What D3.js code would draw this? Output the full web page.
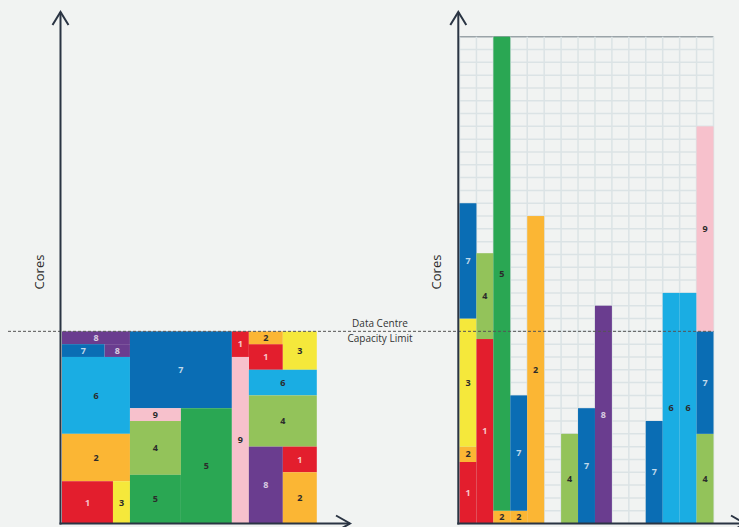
<!DOCTYPE html>
<html>
<head>
<meta charset="utf-8">
<script src="https://cdn.jsdelivr.net/npm/d3@7"></script>
<style>
  body { margin: 0; background: #f1f3f2; }
  svg { display: block; font-family: "Open Sans", sans-serif; }
</style>
</head>
<body>
<div id="chart"></div>
<script>
// job ids and their colours
const jobs = [1, 2, 3, 4, 5, 6, 7, 8, 9];
const jobColors = ["#e31e2d", "#fbb634", "#f5e83b", "#93c35a", "#2aa753", "#1aade3", "#0a6db4", "#6a3d8f", "#f7c1cc"];
const lightLabelJobs = [1, 7, 8];

// left panel: packed blocks (x in time slots, y in cores)
const leftJob = [8, 8, 7, 6, 2, 1, 3, 7, 9, 4, 5, 5, 1, 1, 9, 2, 3, 6, 4, 8, 1, 2];
const leftX0 = [0, 2.5, 0, 0, 0, 0, 3, 4, 4, 4, 4, 7, 10, 11, 10, 11, 13, 11, 11, 11, 13, 13];
const leftX1 = [4, 4, 2.5, 4, 4, 3, 4, 10, 7, 7, 7, 10, 11, 13, 11, 13, 15, 15, 15, 13, 15, 15];
const leftY0 = [14, 13, 13, 7, 3.3, 0, 0, 9, 8, 3.8, 0, 0, 13, 12, 0, 14, 12, 10, 6, 0, 4, 0];
const leftY1 = [15, 14, 14, 13, 7, 3.3, 3.3, 15, 9, 8, 3.8, 9, 15, 14, 13, 15, 15, 12, 10, 6, 6, 4];

// right panel: stacked columns (column index, core range)
const rightJob = [1, 2, 3, 7, 1, 4, 2, 5, 2, 7, 2, 4, 7, 8, 7, 6, 6, 4, 7, 9];
const rightCol = [0, 0, 0, 0, 1, 1, 2, 2, 3, 3, 4, 6, 7, 8, 11, 12, 13, 14, 14, 14];
const rightY0 = [0, 4.8, 6, 16, 0, 14.4, 0, 1, 0, 1, 0, 0, 0, 0, 0, 0, 0, 0, 7, 15];
const rightY1 = [4.8, 6, 16, 25, 14.4, 21.1, 1, 38, 1, 10, 24, 7, 9, 17, 8, 18, 18, 7, 15, 31];

const capacity = 15;
const maxCores = 38;
const slots = 15;

const W = 739, H = 527;
const svg = d3.select("#chart").append("svg")
    .attr("width", W)
    .attr("height", H);

const color = d3.scaleOrdinal().domain(jobs).range(jobColors);
const labelColor = j => lightLabelJobs.includes(j) ? "rgba(255,255,255,0.75)" : "#2b2b2b";

const yScale = d3.scaleLinear().domain([0, maxCores]).range([523.5, 36.7]);
const xLeft = d3.scaleLinear().domain([0, slots]).range([62, 316.8]);
const xRight = d3.scaleLinear().domain([0, slots]).range([459.5, 713.5]);

// grid behind the right panel
const grid = svg.append("g");
grid.selectAll(".hline")
    .data(d3.range(0, maxCores + 1))
    .enter().append("line")
    .attr("x1", xRight(0)).attr("x2", xRight(slots))
    .attr("y1", d => yScale(d)).attr("y2", d => yScale(d))
    .attr("stroke", d => d === maxCores ? "#9aa3a8" : "#dbe3e5")
    .attr("stroke-width", 1.5);
grid.selectAll(".vline")
    .data(d3.range(0, slots + 1))
    .enter().append("line")
    .attr("x1", d => xRight(d)).attr("x2", d => xRight(d))
    .attr("y1", yScale(0)).attr("y2", yScale(maxCores))
    .attr("stroke", "#dbe3e5")
    .attr("stroke-width", 1.5);

// left blocks
const leftData = leftJob.map((j, i) => ({ job: j, x0: leftX0[i], x1: leftX1[i], y0: leftY0[i], y1: leftY1[i] }));
const lg = svg.append("g");
lg.selectAll("rect")
    .data(leftData)
    .enter().append("rect")
    .attr("x", d => xLeft(d.x0))
    .attr("y", d => yScale(d.y1))
    .attr("width", d => xLeft(d.x1) - xLeft(d.x0))
    .attr("height", d => yScale(d.y0) - yScale(d.y1))
    .attr("fill", d => color(d.job));
lg.selectAll("text")
    .data(leftData)
    .enter().append("text")
    .attr("x", d => (xLeft(d.x0) + xLeft(d.x1)) / 2)
    .attr("y", d => (yScale(d.y0) + yScale(d.y1)) / 2)
    .attr("dy", "0.35em")
    .attr("text-anchor", "middle")
    .attr("font-size", 9)
    .attr("font-weight", "bold")
    .attr("fill", d => labelColor(d.job))
    .text(d => d.job);

// right columns
const rightData = rightJob.map((j, i) => ({ job: j, col: rightCol[i], y0: rightY0[i], y1: rightY1[i] }));
const rg = svg.append("g");
rg.selectAll("rect")
    .data(rightData)
    .enter().append("rect")
    .attr("x", d => xRight(d.col))
    .attr("y", d => yScale(d.y1))
    .attr("width", d => xRight(d.col + 1) - xRight(d.col))
    .attr("height", d => yScale(d.y0) - yScale(d.y1))
    .attr("fill", d => color(d.job));
rg.selectAll("text")
    .data(rightData)
    .enter().append("text")
    .attr("x", d => xRight(d.col + 0.5))
    .attr("y", d => (yScale(d.y0) + yScale(d.y1)) / 2)
    .attr("dy", "0.35em")
    .attr("text-anchor", "middle")
    .attr("font-size", 9)
    .attr("font-weight", "bold")
    .attr("fill", d => labelColor(d.job))
    .text(d => d.job);

// capacity line
svg.append("line")
    .attr("x1", 8).attr("x2", xRight(slots))
    .attr("y1", yScale(capacity)).attr("y2", yScale(capacity))
    .attr("stroke", "#555")
    .attr("stroke-width", 1)
    .attr("stroke-dasharray", "3,2");
svg.append("text")
    .attr("x", 380).attr("y", yScale(capacity) - 4)
    .attr("text-anchor", "middle")
    .attr("font-size", 10)
    .attr("fill", "#333")
    .text("Data Centre");
svg.append("text")
    .attr("x", 380).attr("y", yScale(capacity) + 11)
    .attr("text-anchor", "middle")
    .attr("font-size", 10)
    .attr("fill", "#333")
    .text("Capacity Limit");

// axes with arrow heads
const axisColor = "#2a3443";
function drawAxes(x0, xEnd) {
    const g = svg.append("g")
        .attr("stroke", axisColor)
        .attr("stroke-width", 2)
        .attr("fill", "none");
    const y0 = yScale(0);
    g.append("line").attr("x1", x0).attr("x2", x0).attr("y1", y0 + 1).attr("y2", 12);
    g.append("path").attr("d", `M${x0 - 8},25 L${x0},12 L${x0 + 8},25`);
    g.append("line").attr("x1", x0 - 1).attr("x2", xEnd).attr("y1", y0).attr("y2", y0);
    g.append("path").attr("d", `M${xEnd - 14},${y0 - 8} L${xEnd},${y0} L${xEnd - 14},${y0 + 8}`);
}
drawAxes(60.5, 350);
drawAxes(458.3, 745);

// axis titles
[44, 441].forEach(x => {
    svg.append("text")
        .attr("transform", `translate(${x},272) rotate(-90)`)
        .attr("text-anchor", "middle")
        .attr("font-size", 13)
        .attr("fill", "#2a2a2a")
        .text("Cores");
});
</script>
</body>
</html>
